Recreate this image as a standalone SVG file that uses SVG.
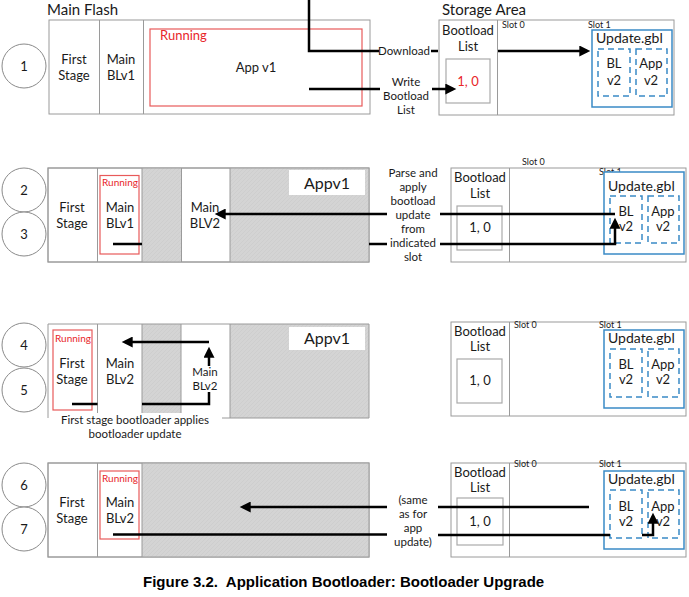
<svg xmlns="http://www.w3.org/2000/svg" width="689" height="597" viewBox="0 0 689 597">
<defs>
<pattern id="hatch" width="4" height="4" patternUnits="userSpaceOnUse">
<rect width="4" height="4" fill="#d4d4d4"/>
<path d="M0,4 L4,0" stroke="#cbcbcb" stroke-width="0.7"/>
</pattern>
<marker id="ah" viewBox="0 0 10 10" refX="7" refY="5" markerWidth="16" markerHeight="11" markerUnits="userSpaceOnUse" orient="auto">
<path d="M0,0 L10,5 L0,10 z" fill="#000"/>
</marker>
<style>
.t{font-family:Lato,"Open Sans","DejaVu Sans",sans-serif;fill:#1a1a1a;}
.c{text-anchor:middle;}
.big{font-size:15px;}
.body{font-size:13px;}
.lab{font-size:11.5px;}
.slot{font-size:9px;}
.run{fill:#e8262a;}
.frame{fill:#fff;stroke:#9a9a9a;stroke-width:1;}
.div{stroke:#9a9a9a;stroke-width:1;fill:none;}
.gray{fill:url(#hatch);stroke:none;}
.redbox{fill:none;stroke:#e85a5a;stroke-width:1.2;}
.list{fill:#fff;stroke:#aaaaaa;stroke-width:1.2;}
.upd{fill:#fff;stroke:#3a8ac6;stroke-width:1.5;}
.dash{fill:none;stroke:#3a8ac6;stroke-width:1.5;stroke-dasharray:6 4;}
.circ{fill:#fff;stroke:#8a8a8a;stroke-width:1;}
.ln{fill:none;stroke:#000;stroke-width:2.5;}
.ar{fill:none;stroke:#000;stroke-width:2.5;marker-end:url(#ah);}
.cap{font-family:"Liberation Sans",Arial,sans-serif;font-weight:bold;font-size:15px;fill:#000;}
</style>
</defs>
<rect width="689" height="597" fill="#fff"/>

<!-- ================= ROW 1 ================= -->
<g id="step1">
<circle class="circ" cx="24" cy="66" r="22"/>
<text class="t c" x="24" y="71" style="font-size:13px">1</text>
</g>
<g id="mainflash1">
<text class="t big" x="47" y="15">Main Flash</text>
<rect class="frame" x="49" y="20" width="321" height="94"/>
<line class="div" x1="99.5" y1="20" x2="99.5" y2="114"/>
<line class="div" x1="143.5" y1="20" x2="143.5" y2="114"/>
<text class="t c body" x="74" y="64">First</text>
<text class="t c body" x="74" y="80">Stage</text>
<text class="t c body" x="121" y="64">Main</text>
<text class="t c body" x="121" y="80">BLv1</text>
<rect class="redbox" x="150" y="29" width="212" height="77"/>
<text class="t body run" x="160" y="40">Running</text>
<text class="t c body" x="256" y="72">App v1</text>
</g>
<g id="storage1">
<text class="t big" x="442" y="15">Storage Area</text>
<rect class="frame" x="439" y="20" width="235" height="95"/>
<line class="div" x1="497.5" y1="20" x2="497.5" y2="115"/>
<text class="t c body" x="468" y="35">Bootload</text>
<text class="t c body" x="468" y="51">List</text>
<rect class="list" x="446" y="59" width="44" height="44"/>
<text class="t c body run" x="468" y="86">1, 0</text>
<text class="t slot" x="502" y="28">Slot 0</text>
<text class="t slot" x="588" y="28">Slot 1</text>
<rect class="upd" x="592" y="30" width="80" height="77"/>
<text class="t body" x="596" y="43" style="font-size:14px">Update.gbl</text>
<rect class="dash" x="598" y="49" width="32" height="47"/>
<rect class="dash" x="636" y="49" width="31" height="47"/>
<text class="t c body" x="614" y="68">BL</text>
<text class="t c body" x="614" y="85">v2</text>
<text class="t c body" x="651" y="68">App</text>
<text class="t c body" x="651" y="85">v2</text>
</g>

<!-- ================= ROW 2 ================= -->
<g id="step2">
<circle class="circ" cx="24" cy="190" r="22"/>
<text class="t c" x="24" y="195" style="font-size:13px">2</text>
</g>
<g id="step3">
<circle class="circ" cx="24" cy="234" r="22"/>
<text class="t c" x="24" y="239" style="font-size:13px">3</text>
</g>
<g id="mainflash2">
<rect class="frame" x="48" y="168" width="321" height="94"/>
<rect class="gray" x="142" y="168" width="39.5" height="94"/>
<rect class="gray" x="230" y="168" width="139" height="94"/>
<rect class="frame" x="48" y="168" width="321" height="94" style="fill:none"/>
<line class="div" x1="97.5" y1="168" x2="97.5" y2="262"/>
<line class="div" x1="142" y1="168" x2="142" y2="262"/>
<line class="div" x1="181.5" y1="168" x2="181.5" y2="262"/>
<line class="div" x1="230" y1="168" x2="230" y2="262"/>
<rect x="289" y="170" width="76" height="25" fill="#fff"/>
<text class="t c big" x="327" y="189" style="font-size:16px">Appv1</text>
<text class="t c body" x="72" y="212">First</text>
<text class="t c body" x="72" y="228">Stage</text>
<rect class="redbox" x="100" y="175.5" width="39" height="78.5"/>
<text class="t c run" x="120" y="186" style="font-size:10px">Running</text>
<text class="t c body" x="120" y="212">Main</text>
<text class="t c body" x="120" y="228">BLv1</text>
<text class="t c body" x="205" y="212">Main</text>
<text class="t c body" x="205" y="228">BLV2</text>
</g>
<g id="storage2">
<rect class="frame" x="451" y="168" width="235" height="94"/>
<line class="div" x1="509.5" y1="168" x2="509.5" y2="262"/>
<text class="t c body" x="480" y="182">Bootload</text>
<text class="t c body" x="480" y="198">List</text>
<rect class="list" x="457" y="206" width="45" height="44"/>
<text class="t c body" x="480" y="232">1, 0</text>
<text class="t slot" x="522" y="165">Slot 0</text>
<text class="t slot" x="599" y="175">Slot 1</text>
<rect class="upd" x="604" y="172" width="80" height="82"/>
<text class="t body" x="608" y="191" style="font-size:14px">Update.gbl</text>
<rect class="dash" x="610" y="196" width="32" height="47"/>
<rect class="dash" x="648" y="196" width="31" height="47"/>
<text class="t c body" x="626" y="216">BL</text>
<text class="t c body" x="626" y="231">v2</text>
<text class="t c body" x="663" y="216">App</text>
<text class="t c body" x="663" y="231">v2</text>
</g>

<!-- ================= ROW 3 ================= -->
<g id="step4">
<circle class="circ" cx="24" cy="345" r="22"/>
<text class="t c" x="24" y="350" style="font-size:13px">4</text>
</g>
<g id="step5">
<circle class="circ" cx="24" cy="390" r="22"/>
<text class="t c" x="24" y="395" style="font-size:13px">5</text>
</g>
<g id="mainflash3">
<rect x="48" y="324" width="321" height="94" fill="#fff"/>
<rect class="gray" x="142" y="324" width="39" height="89"/>
<rect class="gray" x="230" y="324" width="139" height="94"/>
<path class="div" d="M48,418 L48,324 L369,324 L369,418 L222,418"/>
<line class="div" x1="97.5" y1="324" x2="97.5" y2="413"/>
<line class="div" x1="142" y1="324" x2="142" y2="413"/>
<line class="div" x1="181" y1="324" x2="181" y2="413"/>
<line class="div" x1="230" y1="324" x2="230" y2="418"/>
<rect x="289" y="327" width="76" height="23" fill="#fff"/>
<text class="t c big" x="327" y="344" style="font-size:16px">Appv1</text>
<rect class="redbox" x="53" y="330" width="39" height="80"/>
<text class="t c run" x="73" y="342" style="font-size:10px">Running</text>
<text class="t c body" x="72" y="368">First</text>
<text class="t c body" x="72" y="384">Stage</text>
<text class="t c body" x="120" y="368">Main</text>
<text class="t c body" x="120" y="384">BLv2</text>
<text class="t c lab" x="205" y="376">Main</text>
<text class="t c lab" x="205" y="390">BLv2</text>
<text class="t c lab" x="135" y="424">First stage bootloader applies</text>
<text class="t c lab" x="135" y="438">bootloader update</text>
</g>
<g id="storage3">
<rect class="frame" x="451" y="322" width="235" height="94"/>
<line class="div" x1="509.5" y1="322" x2="509.5" y2="416"/>
<text class="t c body" x="480" y="336">Bootload</text>
<text class="t c body" x="480" y="351">List</text>
<rect class="list" x="457" y="359" width="45" height="44"/>
<text class="t c body" x="480" y="385">1, 0</text>
<text class="t slot" x="514" y="328">Slot 0</text>
<text class="t slot" x="599" y="328">Slot 1</text>
<rect class="upd" x="604" y="330" width="80" height="78"/>
<text class="t body" x="608" y="343" style="font-size:14px">Update.gbl</text>
<rect class="dash" x="610" y="349" width="32" height="48"/>
<rect class="dash" x="648" y="349" width="31" height="48"/>
<text class="t c body" x="626" y="369">BL</text>
<text class="t c body" x="626" y="384">v2</text>
<text class="t c body" x="663" y="369">App</text>
<text class="t c body" x="663" y="384">v2</text>
</g>

<!-- ================= ROW 4 ================= -->
<g id="step6">
<circle class="circ" cx="24" cy="485" r="22"/>
<text class="t c" x="24" y="490" style="font-size:13px">6</text>
</g>
<g id="step7">
<circle class="circ" cx="24" cy="529" r="22"/>
<text class="t c" x="24" y="534" style="font-size:13px">7</text>
</g>
<g id="mainflash4">
<rect class="frame" x="48" y="463" width="321" height="94"/>
<rect class="gray" x="142" y="463" width="227" height="94"/>
<rect class="frame" x="48" y="463" width="321" height="94" style="fill:none"/>
<line class="div" x1="97.5" y1="463" x2="97.5" y2="557"/>
<line class="div" x1="142" y1="463" x2="142" y2="557"/>
<rect class="redbox" x="100" y="471" width="39" height="68"/>
<text class="t c run" x="120" y="482" style="font-size:10px">Running</text>
<text class="t c body" x="72" y="507">First</text>
<text class="t c body" x="72" y="523">Stage</text>
<text class="t c body" x="120" y="507">Main</text>
<text class="t c body" x="120" y="523">BLv2</text>
</g>
<g id="storage4">
<rect class="frame" x="451" y="463" width="235" height="94"/>
<line class="div" x1="509.5" y1="463" x2="509.5" y2="557"/>
<text class="t c body" x="480" y="477">Bootload</text>
<text class="t c body" x="480" y="492">List</text>
<rect class="list" x="457" y="498" width="46" height="47"/>
<text class="t c body" x="480" y="526">1, 0</text>
<text class="t slot" x="514" y="467">Slot 0</text>
<text class="t slot" x="599" y="467">Slot 1</text>
<rect class="upd" x="604" y="471" width="80" height="78"/>
<text class="t body" x="608" y="484" style="font-size:14px">Update.gbl</text>
<rect class="dash" x="610" y="490" width="32" height="48"/>
<rect class="dash" x="648" y="490" width="31" height="48"/>
<text class="t c body" x="626" y="511">BL</text>
<text class="t c body" x="626" y="526">v2</text>
<text class="t c body" x="663" y="511">App</text>
<text class="t c body" x="663" y="526">v2</text>
</g>

<!-- ================= CONNECTORS ================= -->
<g id="connectors">
<!-- row 1 -->
<path class="ln" d="M309,0 L309,51 L379,51"/>
<line class="ln" x1="431" y1="51" x2="438" y2="51"/>
<line class="ar" x1="498" y1="51" x2="587" y2="51"/>
<line class="ln" x1="309" y1="89" x2="380" y2="89"/>
<line class="ar" x1="432" y1="89" x2="453" y2="89"/>
<text class="t c lab" x="404" y="55">Download</text>
<text class="t c lab" x="406" y="86">Write</text>
<text class="t c lab" x="406" y="100">Bootload</text>
<text class="t c lab" x="406" y="114">List</text>
<!-- row 2 -->
<line class="ar" x1="387" y1="214" x2="218" y2="214"/>
<line class="ln" x1="440" y1="214" x2="615" y2="214"/>
<line class="ar" x1="615" y1="244" x2="615" y2="221"/>
<line class="ln" x1="113" y1="244" x2="142" y2="244"/>
<line class="ln" x1="369" y1="244" x2="387" y2="244"/>
<line class="ln" x1="440" y1="244" x2="616.2" y2="244"/>
<text class="t c lab" x="413" y="177">Parse and</text>
<text class="t c lab" x="413" y="191">apply</text>
<text class="t c lab" x="413" y="205">bootload</text>
<text class="t c lab" x="413" y="219">update</text>
<text class="t c lab" x="413" y="233">from</text>
<text class="t c lab" x="413" y="247">indicated</text>
<text class="t c lab" x="413" y="261">slot</text>
<!-- row 3 -->
<line class="ln" x1="72" y1="404" x2="97.5" y2="404"/>
<path class="ln" d="M142,404 L209,404 L209,392"/>
<line class="ar" x1="209" y1="366" x2="209" y2="350"/>
<path class="ar" d="M209,342 L125,342"/>
<!-- row 4 -->
<line class="ar" x1="387" y1="507" x2="243" y2="507"/>
<line class="ln" x1="438" y1="507" x2="589" y2="507"/>
<line class="ln" x1="113" y1="534.5" x2="387" y2="534.5"/>
<line class="ln" x1="438" y1="535" x2="610" y2="535"/>
<path class="ar" d="M642,535 L653,535 L653,516"/>
<text class="t c lab" x="413" y="504">(same</text>
<text class="t c lab" x="413" y="518">as for</text>
<text class="t c lab" x="413" y="532">app</text>
<text class="t c lab" x="413" y="546">update)</text>
</g>

<text class="cap" x="143" y="587" xml:space="preserve">Figure 3.2.  Application Bootloader: Bootloader Upgrade</text>
</svg>
